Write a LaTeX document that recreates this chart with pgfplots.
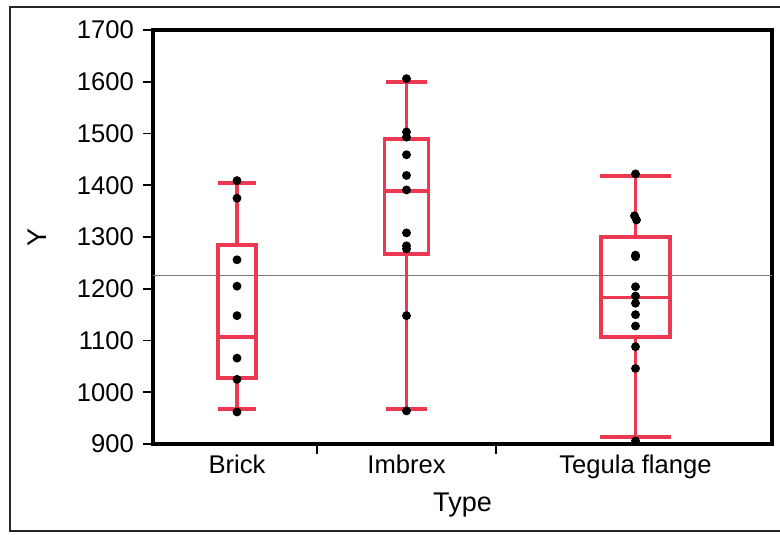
\documentclass[border=0pt]{standalone}
\usepackage{pgfplots}
\pgfplotsset{compat=1.18}
\usepgfplotslibrary{statistics}
\usepackage{fontspec}
\setmainfont{Liberation Sans}
\definecolor{boxred}{RGB}{236,56,80}
\definecolor{meangray}{RGB}{120,120,120}
\begin{document}
\begin{tikzpicture}
\begin{axis}[
  scale only axis,
  width=309.5pt, height=207pt,
  xmin=153, xmax=772,
  ymin=900, ymax=1700,
  clip=false,
  axis line style={line width=1.7pt},
  tick align=outside,
  xtick pos=left, ytick pos=left,
  ytick={900,1000,...,1700},
  xtick={237,406.5,635.5},
  xticklabels={Brick,Imbrex,Tegula flange},
  x tick style={draw=none},
  y tick style={line width=0.9pt, black},
  major tick length=5pt,
  extra x ticks={317,496},
  extra x tick labels={},
  extra x tick style={x tick style={draw=black, line width=0.9pt}, major tick length=5pt},
  /pgf/number format/assume math mode=true,
  /pgf/number format/1000 sep={},
  tick label style={font=\fontsize{12.8}{14}\selectfont},
  yticklabel style={xshift=-1pt},
  xticklabel style={yshift=3pt},
  label style={font=\fontsize{13.5}{15}\selectfont},
  xlabel={Type},
  ylabel={Y},
  xlabel style={at={(rel axis cs:0.5,-0.148)}, anchor=center},
  ylabel style={at={(rel axis cs:-0.1874,0.5)}, anchor=center, rotate=0},
  boxplot/draw direction=y,
]
% grand mean line
\addplot[meangray, line width=0.5pt] coordinates {(153,1225) (772,1225)};

% boxes
\addplot[boxred, line width=1.9pt, solid,
  boxplot prepared={draw position=237, lower whisker=967, lower quartile=1027,
    median=1107, upper quartile=1285, upper whisker=1404,
    box extend=38, whisker extend=38}]
  coordinates {};
\addplot[boxred, line width=1.9pt, solid,
  boxplot prepared={draw position=406.5, lower whisker=967, lower quartile=1267,
    median=1389, upper quartile=1490, upper whisker=1600,
    box extend=44, whisker extend=41}]
  coordinates {};
\addplot[boxred, line width=1.9pt, solid,
  boxplot prepared={draw position=635.5, lower whisker=913, lower quartile=1107,
    median=1183, upper quartile=1300, upper whisker=1418,
    box extend=69, whisker extend=71}]
  coordinates {};

% points
\addplot[only marks, mark=*, mark size=2pt, black] coordinates {
 (237,1409) (237,1375) (237,1256) (237,1205) (237,1148) (237,1066) (237,1025) (237,962)
};
\addplot[only marks, mark=*, mark size=2pt, black] coordinates {
 (406.5,1606) (406.5,1503) (406.5,1493) (406.5,1459) (406.5,1419) (406.5,1391)
 (406.5,1308) (406.5,1283) (406.5,1277) (406.5,1148) (406.5,964)
};
\addplot[only marks, mark=*, mark size=2pt, black] coordinates {
 (635.5,1422) (634.5,1341) (636.5,1333) (635.5,1265) (635.5,1262) (635.5,1204)
 (635.5,1186) (635.5,1172) (635.5,1150) (635.5,1128) (635.5,1088) (635.5,1046) (635.5,906)
};

\coordinate (fsw) at (axis cs:10,732);
\coordinate (fne) at (axis cs:790,1744);
\coordinate (bsw) at (axis cs:0,726);
\coordinate (bne) at (axis cs:780,1758);
\end{axis}
\draw[line width=1pt, black!85] (fsw) rectangle (fne);
\pgfresetboundingbox
\path (bsw) rectangle (bne);
\end{tikzpicture}
\end{document}
